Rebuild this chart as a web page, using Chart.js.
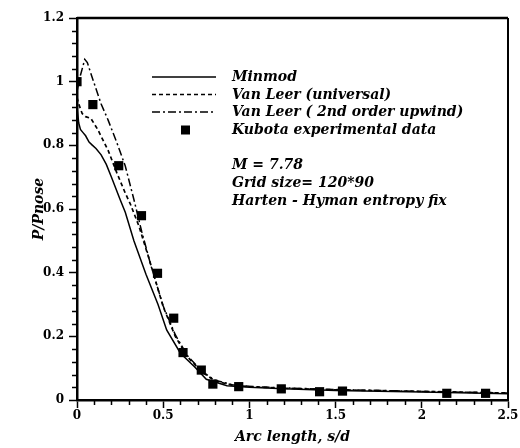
<!DOCTYPE html>
<html>
<head>
<meta charset="utf-8">
<script src="https://cdn.jsdelivr.net/npm/chart.js@4.4.0/dist/chart.umd.min.js"></script>
<style>
  body { margin: 0; background: #fff; }
</style>
</head>
<body>
<canvas id="myChart" width="520" height="448"></canvas>
<script>
// curves
var minmodX = [0, 0.01, 0.02, 0.035, 0.05, 0.07, 0.09, 0.11, 0.14, 0.17, 0.2, 0.25, 0.28, 0.33, 0.4, 0.47, 0.52, 0.6, 0.68, 0.75, 0.87, 1.0, 1.2, 1.5, 2.0, 2.5];
var minmodY = [0.92, 0.87, 0.85, 0.84, 0.83, 0.81, 0.80, 0.79, 0.77, 0.74, 0.70, 0.63, 0.59, 0.50, 0.395, 0.30, 0.22, 0.147, 0.105, 0.065, 0.045, 0.04, 0.035, 0.03, 0.025, 0.02];

var vlUnivX = [0, 0.01, 0.03, 0.05, 0.08, 0.12, 0.18, 0.23, 0.28, 0.31, 0.36, 0.42, 0.5, 0.57, 0.64, 0.72, 0.8, 0.9, 1.0, 1.2, 1.5, 2.0, 2.5];
var vlUnivY = [0.95, 0.93, 0.90, 0.89, 0.885, 0.85, 0.785, 0.715, 0.65, 0.615, 0.545, 0.44, 0.293, 0.2, 0.136, 0.09, 0.06, 0.047, 0.042, 0.037, 0.032, 0.027, 0.022];

var vl2ndX = [0, 0.02, 0.045, 0.06, 0.09, 0.14, 0.18, 0.23, 0.28, 0.33, 0.375, 0.43, 0.5, 0.57, 0.64, 0.72, 0.8, 0.9, 1.0, 1.2, 1.5, 2.0, 2.5];
var vl2ndY = [0.97, 1.02, 1.07, 1.06, 1.01, 0.93, 0.88, 0.81, 0.735, 0.63, 0.53, 0.42, 0.295, 0.205, 0.14, 0.092, 0.062, 0.048, 0.043, 0.038, 0.033, 0.027, 0.022];

var kubotaX = [0, 0.092, 0.242, 0.374, 0.467, 0.561, 0.615, 0.721, 0.788, 0.938, 1.185, 1.407, 1.54, 2.145, 2.37];
var kubotaY = [1.0, 0.928, 0.736, 0.579, 0.398, 0.257, 0.149, 0.094, 0.05, 0.042, 0.035, 0.026, 0.028, 0.021, 0.021];

var seriesNames = ['Minmod', 'Van Leer (universal)', 'Van Leer ( 2nd order upwind)', 'Kubota experimental data'];
var noteLines = ['M = 7.78', 'Grid size= 120*90', 'Harten - Hyman entropy fix'];

function pts(xs, ys) {
    return xs.map(function(x, i) { return {x: x, y: ys[i]}; });
}

function isMultiple(v, step) {
    var r = v / step;
    return Math.abs(r - Math.round(r)) < 1e-6;
}

var tickFont = {family: 'DejaVu Serif', weight: 'bold', size: 12};
var titleFont = {family: 'DejaVu Serif', weight: 'bold', style: 'italic', size: 14};
var dashes = [[], [4, 3], [8, 3, 2, 3]];

// minor ticks, top/right frame and the in-plot legend
var extras = {
    id: 'extras',
    afterDraw: function(chart) {
        var c = chart.ctx, a = chart.chartArea;
        var xs = chart.scales.x, ys = chart.scales.y;
        c.save();
        c.strokeStyle = '#000';
        c.lineWidth = 2.5;
        c.beginPath();
        c.moveTo(a.left, a.top); c.lineTo(a.right, a.top);
        c.stroke();
        c.lineWidth = 2;
        c.beginPath();
        c.moveTo(a.right, a.top); c.lineTo(a.right, a.bottom);
        c.stroke();

        c.lineWidth = 1.5;
        c.beginPath();
        for (var v = 0.1; v < 2.5; v += 0.1) {
            if (isMultiple(v, 0.5)) continue;
            var px = Math.round(xs.getPixelForValue(v)) + 0.5;
            c.moveTo(px, a.bottom); c.lineTo(px, a.bottom + 5);
        }
        for (var w = 0.04; w < 1.2; w += 0.04) {
            if (isMultiple(w, 0.2)) continue;
            var py = Math.round(ys.getPixelForValue(w)) + 0.5;
            c.moveTo(a.left, py); c.lineTo(a.left - 5, py);
        }
        c.stroke();

        // legend
        var rowY = [77, 94.5, 112, 130];
        c.font = 'italic bold 14px "DejaVu Serif"';
        c.fillStyle = '#000';
        c.textBaseline = 'alphabetic';
        for (var i = 0; i < 4; i++) {
            if (i < 3) {
                c.lineWidth = 1.3;
                c.setLineDash(dashes[i]);
                c.beginPath();
                c.moveTo(152, rowY[i]); c.lineTo(216, rowY[i]);
                c.stroke();
                c.setLineDash([]);
            } else {
                c.fillRect(181, rowY[i] - 4.5, 9, 9);
            }
            c.fillText(seriesNames[i], 232, rowY[i] + 4);
        }
        for (var j = 0; j < noteLines.length; j++) {
            c.fillText(noteLines[j], 232, 169 + j * 18);
        }
        c.restore();
    }
};

var ctx = document.getElementById('myChart').getContext('2d');

var myChart = new Chart(ctx, {
    type: 'scatter',
    data: {
        datasets: [{
            label: seriesNames[0],
            data: pts(minmodX, minmodY),
            showLine: true,
            borderColor: '#000',
            borderWidth: 1.5,
            pointRadius: 0
        }, {
            label: seriesNames[1],
            data: pts(vlUnivX, vlUnivY),
            showLine: true,
            borderColor: '#000',
            borderWidth: 1.7,
            borderDash: dashes[1],
            pointRadius: 0
        }, {
            label: seriesNames[2],
            data: pts(vl2ndX, vl2ndY),
            showLine: true,
            borderColor: '#000',
            borderWidth: 1.5,
            borderDash: dashes[2],
            pointRadius: 0
        }, {
            label: seriesNames[3],
            data: pts(kubotaX, kubotaY),
            showLine: false,
            pointStyle: 'rect',
            pointRadius: 6.5,
            backgroundColor: '#000',
            borderColor: '#000',
            borderWidth: 0
        }]
    },
    options: {
        responsive: false,
        animation: false,
        devicePixelRatio: 1,
        layout: {padding: {top: 18, right: 12, left: 0, bottom: 0}},
        plugins: {legend: {display: false}, tooltip: {enabled: false}},
        scales: {
            x: {
                type: 'linear', min: 0, max: 2.5,
                afterFit: function(s) { s.height = 48; },
                border: {display: true, color: '#000', width: 2.5},
                grid: {
                    drawOnChartArea: false, drawTicks: true, tickLength: 8, tickWidth: 1.5,
                    tickColor: function(c) { return isMultiple(c.tick.value, 0.5) ? '#000' : 'rgba(0,0,0,0)'; }
                },
                ticks: {
                    stepSize: 0.1, autoSkip: false, maxRotation: 0, padding: 1,
                    color: '#000', font: tickFont,
                    callback: function(v) { return isMultiple(v, 0.5) ? String(Math.round(v * 10) / 10) : ''; }
                },
                title: {display: true, text: 'Arc length, s/d', color: '#000', font: titleFont, padding: {top: 0, bottom: 2}}
            },
            y: {
                type: 'linear', min: 0, max: 1.2,
                afterFit: function(s) { s.width = 77; },
                border: {display: true, color: '#000', width: 2.5},
                grid: {
                    drawOnChartArea: false, drawTicks: true, tickLength: 8, tickWidth: 1.5,
                    tickColor: function(c) { return isMultiple(c.tick.value, 0.2) ? '#000' : 'rgba(0,0,0,0)'; }
                },
                ticks: {
                    stepSize: 0.04, autoSkip: false, padding: 5,
                    color: '#000', font: tickFont,
                    callback: function(v) { return isMultiple(v, 0.2) ? String(Math.round(v * 10) / 10) : ''; }
                },
                title: {display: true, text: 'P/Pnose', color: '#000', font: titleFont, padding: {top: 31, bottom: 0}}
            }
        }
    },
    plugins: [extras]
});
</script>
</body>
</html>
